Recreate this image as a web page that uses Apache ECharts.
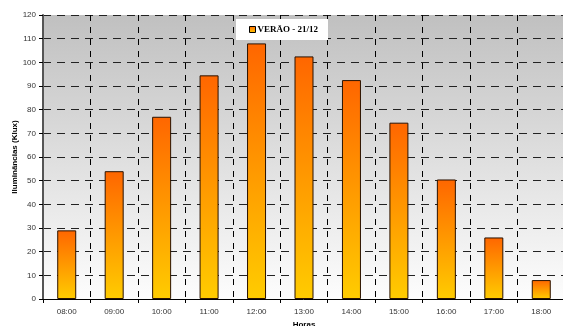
<!DOCTYPE html>
<html>
<head>
<meta charset="utf-8">
<script src="https://cdn.jsdelivr.net/npm/echarts@6/dist/echarts.min.js"></script>
<style>
  html, body { margin: 0; padding: 0; background: #fff; }
  #chart { width: 563px; height: 326px; }
</style>
</head>
<body>
<div id="chart"></div>
<script>
// Hourly illuminance, summer solstice
const hours = ['08:00', '09:00', '10:00', '11:00', '12:00', '13:00', '14:00', '15:00', '16:00', '17:00', '18:00'];
const illuminance = [29, 54, 77, 94.5, 108, 102.5, 92.5, 74.5, 50.5, 26, 8];
const seriesName = 'VERÃO - 21/12';
const yTicks = { min: 0, max: 120, interval: 10 };

const barFill = new echarts.graphic.LinearGradient(0, 0, 0, 1, [
  { offset: 0, color: '#ff6600' },
  { offset: 1, color: '#ffcc00' }
]);

const chart = echarts.init(document.getElementById('chart'), null, { renderer: 'canvas' });
chart.setOption({
  animation: false,
  grid: {
    left: 43, top: 15, width: 522, height: 284,
    outerBoundsMode: 'none',
    containLabel: false,
    show: true,
    borderWidth: 0,
    backgroundColor: new echarts.graphic.LinearGradient(0, 0, 0, 1, [
      { offset: 0, color: '#c0c0c0' },
      { offset: 1, color: '#fdfdfd' }
    ])
  },
  legend: {
    left: 236, top: 19,
    width: 92, height: 20,
    padding: [6, 10, 6, 13],
    backgroundColor: '#ffffff',
    itemWidth: 6, itemHeight: 6, itemGap: 2,
    icon: 'rect',
    textStyle: { fontFamily: 'Liberation Serif', fontWeight: 'bold', fontSize: 9, color: '#000', padding: [0, 0, 0, -3] },
    data: [{ name: seriesName, itemStyle: { color: barFill, borderColor: '#000', borderWidth: 1 } }]
  },
  xAxis: {
    type: 'category',
    data: hours,
    name: 'Horas',
    nameLocation: 'middle',
    nameGap: 22,
    nameMoveOverlap: false,
    nameTextStyle: { fontFamily: 'Liberation Sans', fontWeight: 'bold', fontSize: 8, color: '#000' },
    axisLine: { lineStyle: { color: '#000', width: 1 } },
    axisTick: { show: true, alignWithLabel: false, length: 4, lineStyle: { color: '#000' } },
    axisLabel: { fontFamily: 'Liberation Sans', fontSize: 8, color: '#333', margin: 9 },
    splitLine: { show: true, lineStyle: { color: '#000', type: [6, 6], width: 1 } }
  },
  yAxis: {
    type: 'value',
    min: yTicks.min, max: yTicks.max, interval: yTicks.interval,
    name: 'Iluminâncias (Klux)',
    nameLocation: 'middle',
    nameGap: 24,
    nameMoveOverlap: false,
    nameRotate: 90,
    nameTextStyle: { fontFamily: 'Liberation Sans', fontWeight: 'bold', fontSize: 8, color: '#000' },
    axisLine: { show: true, lineStyle: { color: '#555', width: 2 } },
    axisTick: { show: true, length: 4, lineStyle: { color: '#000' } },
    axisLabel: { fontFamily: 'Liberation Sans', fontSize: 8, color: '#333', margin: 7 },
    splitLine: { show: true, lineStyle: { color: '#222', type: [8, 6], width: 1 } }
  },
  series: [{
    name: seriesName,
    type: 'bar',
    data: illuminance,
    barWidth: 19,
    itemStyle: {
      color: barFill,
      borderColor: '#2a1200',
      borderWidth: 1
    }
  }]
});
</script>
</body>
</html>
